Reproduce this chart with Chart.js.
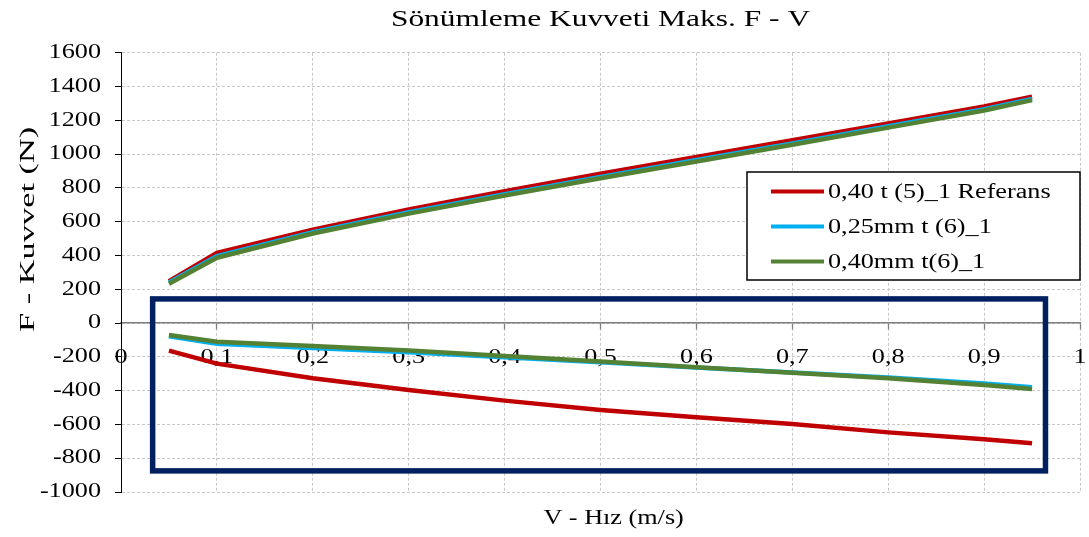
<!DOCTYPE html>
<html><head><meta charset="utf-8">
<script src="https://cdn.jsdelivr.net/npm/chart.js@4/dist/chart.umd.min.js"></script>
<style>html,body{margin:0;padding:0;background:#fff;overflow:hidden;}#wrap{width:1089px;height:537px;position:relative;}</style>
</head><body><div id="wrap"><canvas id="c"></canvas></div>
<script>
// ---- data ----
const velocities = [0.05, 0.1, 0.2, 0.3, 0.4, 0.5, 0.6, 0.7, 0.8, 0.9, 0.95];
const refUpper  = [248, 415, 553, 672, 781, 884, 983, 1082, 1182, 1283, 1340];
const refLower  = [-163, -240, -327, -396, -459, -514, -558, -597, -647, -688, -712];
const t025Upper = [240, 396, 538, 656, 763, 865, 965, 1064, 1165, 1266, 1327];
const t025Lower = [-78, -122, -148, -173, -203, -232, -263, -292, -322, -357, -380];
const t040Upper = [233, 387, 530, 648, 755, 857, 957, 1056, 1157, 1258, 1320];
const t040Lower = [-70, -110, -136, -163, -195, -228, -262, -294, -327, -366, -390];
const seriesLabels = ['0,40 t (5)_1 Referans', '0,25mm t (6)_1', '0,40mm t(6)_1'];
const seriesColors = ['#C00000', '#00B0F0', '#548235'];
const xTickLabels = ['0', '0,1', '0,2', '0,3', '0,4', '0,5', '0,6', '0,7', '0,8', '0,9', '1'];
const yTickValues = [-1000, -800, -600, -400, -200, 0, 200, 400, 600, 800, 1000, 1200, 1400, 1600];
const chartTitle = 'Sönümleme Kuvveti Maks. F - V';
const xTitle = 'V - Hız (m/s)';
const yTitle = 'F - Kuvvet (N)';
const highlightBox = { xMin: 0.033, xMax: 0.964, yMin: -875, yMax: 143 };

// The reference renders its (Times) text horizontally widened; emulate that.
const STRETCH_H = 1.31, STRETCH_V = 1.72;
(function () {
  const proto = CanvasRenderingContext2D.prototype;
  const origFill = proto.fillText, origMeasure = proto.measureText;
  const factor = (ctx) => (Math.abs(ctx.getTransform().b) > 0.5 ? STRETCH_V : STRETCH_H);
  proto.fillText = function (text, x, y, maxWidth) {
    const s = factor(this);
    this.save();
    this.translate(x, y);
    this.scale(s, 1);
    if (maxWidth !== undefined) origFill.call(this, text, 0, 0, maxWidth / s);
    else origFill.call(this, text, 0, 0);
    this.restore();
  };
  proto.measureText = function (text) {
    const m = origMeasure.call(this, text);
    const s = factor(this);
    return {
      width: m.width * s,
      actualBoundingBoxLeft: m.actualBoundingBoxLeft * s,
      actualBoundingBoxRight: m.actualBoundingBoxRight * s,
      actualBoundingBoxAscent: m.actualBoundingBoxAscent,
      actualBoundingBoxDescent: m.actualBoundingBoxDescent,
      fontBoundingBoxAscent: m.fontBoundingBoxAscent,
      fontBoundingBoxDescent: m.fontBoundingBoxDescent
    };
  };
})();

const FONT = '"Liberation Serif", "Times New Roman", serif';
Chart.defaults.font.family = FONT;
Chart.defaults.color = '#000';

function pts(ys) { return velocities.map((v, i) => ({ x: v, y: ys[i] })); }
const branches = [
  [refUpper, refLower],
  [t025Upper, t025Lower],
  [t040Upper, t040Lower]
];
const datasets = [];
branches.forEach((br, s) => {
  br.forEach((ys) => {
    datasets.push({
      label: seriesLabels[s],
      data: pts(ys),
      borderColor: seriesColors[s],
      backgroundColor: seriesColors[s],
      borderWidth: 4.5,
      pointRadius: 0,
      tension: 0,
      fill: false,
      order: 2 - s
    });
  });
});

const boxPlugin = {
  id: 'highlightBox',
  afterDatasetsDraw(chart) {
    const { ctx, scales: { x, y } } = chart;
    const l = x.getPixelForValue(highlightBox.xMin), r = x.getPixelForValue(highlightBox.xMax);
    const t = y.getPixelForValue(highlightBox.yMax), b = y.getPixelForValue(highlightBox.yMin);
    ctx.save();
    ctx.strokeStyle = '#002060';
    ctx.lineWidth = 5.5;
    ctx.strokeRect(l, t, r - l, b - t);
    ctx.restore();
  }
};

const legendPlugin = {
  id: 'boxLegend',
  afterDraw(chart) {
    const ctx = chart.ctx, a = chart.chartArea;
    const w = 333, h = 108, x0 = a.right - w, y0 = 172;
    ctx.save();
    ctx.fillStyle = '#fff';
    ctx.fillRect(x0, y0, w, h);
    ctx.strokeStyle = '#000';
    ctx.lineWidth = 1.5;
    ctx.strokeRect(x0, y0, w, h);
    ctx.font = '20px ' + FONT;
    ctx.textBaseline = 'middle';
    ctx.textAlign = 'left';
    seriesLabels.forEach((lab, i) => {
      const yy = y0 + 19.5 + i * 35;
      ctx.strokeStyle = seriesColors[i];
      ctx.lineWidth = 4;
      ctx.beginPath(); ctx.moveTo(x0 + 24, yy); ctx.lineTo(x0 + 77, yy); ctx.stroke();
      ctx.fillStyle = '#000';
      ctx.fillText(lab, x0 + 81, yy + 1);
    });
    ctx.restore();
  }
};

new Chart(document.getElementById('c'), {
  type: 'line',
  data: { datasets },
  plugins: [boxPlugin, legendPlugin],
  options: {
    responsive: true,
    maintainAspectRatio: false,
    animation: false,
    layout: { padding: { left: 0, right: 9, top: 0, bottom: 0 } },
    plugins: {
      legend: { display: false },
      tooltip: { enabled: false },
      title: {
        display: true, text: chartTitle, fullSize: false,
        font: { size: 24, weight: 'normal', family: FONT }, color: '#000',
        padding: { top: 5, bottom: 19 }
      },
      subtitle: {
        display: true, text: '    ' + xTitle, position: 'bottom', fullSize: false,
        font: { size: 20, weight: 'normal', family: FONT }, color: '#000',
        padding: { top: 15, bottom: 6 }
      }
    },
    scales: {
      x: {
        type: 'linear', position: { y: 0 }, min: 0, max: 1,
        afterFit(scale) { scale.paddingLeft = 0; scale.paddingRight = 0; },
        ticks: {
          stepSize: 0.1, font: { size: 20 }, color: '#000', padding: 17, maxRotation: 0, autoSkip: false,
          callback: (v, i) => xTickLabels[i]
        },
        grid: { color: '#C8C8C8', lineWidth: 1, tickLength: 6, tickColor: '#7F7F7F', tickBorderDash: [0, 0], tickWidth: 1.3 },
        border: { display: true, color: '#7F7F7F', width: 1.5, dash: [3, 2] }
      },
      y: {
        type: 'linear', min: -1000, max: 1600,
        afterFit(scale) { scale.width = 121; },
        afterBuildTicks(scale) { scale.ticks = yTickValues.map(v => ({ value: v })); },
        ticks: { font: { size: 20 }, color: '#000', padding: 14, callback: v => String(v) },
        grid: { color: '#C8C8C8', lineWidth: 1, tickLength: 6, tickColor: '#000', tickBorderDash: [0, 0] },
        border: { display: true, color: '#000', width: 1, dash: [3, 2] },
        title: {
          display: true, text: '          ' + yTitle, font: { size: 20 }, color: '#000',
          padding: { top: 17, bottom: 0 }
        }
      }
    }
  }
});
</script></body></html>
